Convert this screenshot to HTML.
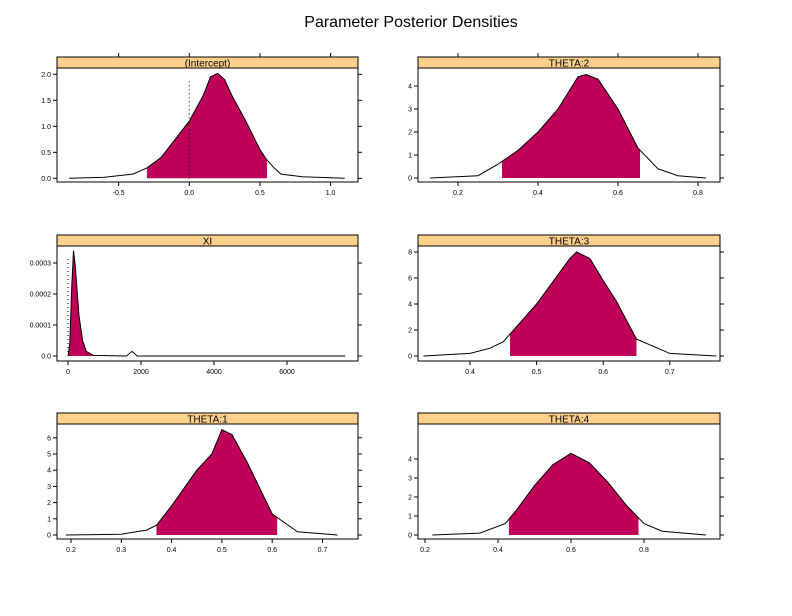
<!DOCTYPE html>
<html><head><meta charset="utf-8"><style>
body{margin:0;background:#fff}
svg text{font-family:"Liberation Sans",sans-serif;fill:#000}
</style></head><body>
<svg id="c" width="792" height="611" xmlns="http://www.w3.org/2000/svg">
<text x="411" y="27" font-size="16" text-anchor="middle">Parameter Posterior Densities</text>
</svg>
<script>
// ---- data ----
const panelTitles=["(Intercept)","THETA:2","XI","THETA:3","THETA:1","THETA:4"];
const interceptX=[-0.85,-0.6,-0.4,-0.3,-0.2,-0.1,0,0.1,0.15,0.2,0.25,0.3,0.4,0.5,0.55,0.6,0.65,0.8,1.1];
const interceptY=[0,0.02,0.08,0.2,0.4,0.75,1.1,1.6,1.95,2.02,1.9,1.6,1.1,0.55,0.35,0.2,0.08,0.03,0];
const theta2X=[0.13,0.25,0.3,0.35,0.4,0.45,0.5,0.52,0.55,0.6,0.65,0.7,0.75,0.82];
const theta2Y=[0,0.1,0.6,1.2,2.0,3.0,4.4,4.5,4.3,3.0,1.3,0.4,0.1,0];
const xiX=[0,50,100,150,200,300,400,500,700,1600,1750,1900,7600];
const xiY=[0,0.00004,0.00022,0.00034,0.00029,0.00013,0.00005,0.000015,0.000002,0,0.000015,0,0];
const theta3X=[0.33,0.4,0.43,0.45,0.5,0.55,0.56,0.58,0.6,0.62,0.65,0.7,0.77];
const theta3Y=[0,0.2,0.6,1.1,4,7.5,8,7.5,5.8,4.2,1.3,0.2,0];
const theta1X=[0.19,0.3,0.35,0.37,0.4,0.45,0.48,0.5,0.52,0.55,0.6,0.65,0.73];
const theta1Y=[0,0.05,0.3,0.6,1.8,4,5,6.5,6.2,4.5,1.3,0.2,0];
const theta4X=[0.22,0.35,0.42,0.45,0.5,0.55,0.6,0.65,0.7,0.75,0.8,0.85,0.97];
const theta4Y=[0,0.1,0.6,1.3,2.6,3.7,4.3,3.8,2.8,1.6,0.6,0.2,0];
const shadeLo=[-0.3,0.31,0,0.46,0.37,0.43];
const shadeHi=[0.55,0.655,700,0.65,0.61,0.785];
const xTicks=[[-0.5,0,0.5,1],[0.2,0.4,0.6,0.8],[0,2000,4000,6000],[0.4,0.5,0.6,0.7],[0.2,0.3,0.4,0.5,0.6,0.7],[0.2,0.4,0.6,0.8]];
const xTickLabels=[["-0.5","0.0","0.5","1.0"],["0.2","0.4","0.6","0.8"],["0","2000","4000","6000"],["0.4","0.5","0.6","0.7"],["0.2","0.3","0.4","0.5","0.6","0.7"],["0.2","0.4","0.6","0.8"]];
const yTicks=[[0,0.5,1,1.5,2],[0,1,2,3,4],[0,0.0001,0.0002,0.0003],[0,2,4,6,8],[0,1,2,3,4,5,6],[0,1,2,3,4]];
const yTickLabels=[["0.0","0.5","1.0","1.5","2.0"],["0","1","2","3","4"],["0.0","0.0001","0.0002","0.0003"],["0","2","4","6","8"],["0","1","2","3","4","5","6"],["0","1","2","3","4"]];
const dotLine=[0,null,0,null,null,null];
// ---- layout ----
const seriesX=[interceptX,theta2X,xiX,theta3X,theta1X,theta4X];
const seriesY=[interceptY,theta2Y,xiY,theta3Y,theta1Y,theta4Y];
const xMap=[[0,189.3,141.3],[0,378,400],[0,68,0.0365],[0.4,470,666],[0.2,71,503],[0.2,425,365]];
const yMap=[[178.3,52],[178,23],[356,310000],[356,13],[535,16.2],[535,19]];
const boxes=[[57,57,358,182],[418,57,720,182],[57,235,358,361],[418,235,720,361],[57,413,358,539],[418,413,720,539]];
const svg=document.getElementById('c');
const NS="http://www.w3.org/2000/svg";
function mk(t,a){const e=document.createElementNS(NS,t);for(const k in a)e.setAttribute(k,a[k]);svg.appendChild(e);return e;}
function interp(xs,ys,x){for(let i=0;i<xs.length-1;i++){if(x>=xs[i]&&x<=xs[i+1]){return ys[i]+(ys[i+1]-ys[i])*(x-xs[i])/(xs[i+1]-xs[i]);}}return 0;}
for(let p=0;p<6;p++){
  const [l,t,r,b]=boxes[p];
  const xm=xMap[p],ym=yMap[p];
  const sx=v=>xm[1]+(v-xm[0])*xm[2];
  const sy=v=>ym[0]-v*ym[1];
  const xs=seriesX[p],ys=seriesY[p];
  const st=mk('rect',{x:l,y:t,width:r-l,height:11,fill:'#ffd18c',stroke:'#000','stroke-width':1});
  
  
  const tt=mk('text',{x:(l+r)/2,y:t+9.5,'font-size':10,'text-anchor':'middle'});tt.textContent=panelTitles[p];
  
  
  const fr=mk('rect',{x:l,y:t+11,width:r-l,height:b-t-11,fill:'none',stroke:'#000','stroke-width':1});
  
  
  // shade
  const lo=shadeLo[p],hi=shadeHi[p];
  let pts=[[lo,0],[lo,interp(xs,ys,lo)]];
  for(let i=0;i<xs.length;i++)if(xs[i]>lo&&xs[i]<hi)pts.push([xs[i],ys[i]]);
  pts.push([hi,interp(xs,ys,hi)],[hi,0]);
  const sh=mk('polygon',{points:pts.map(q=>sx(q[0]).toFixed(1)+','+sy(q[1]).toFixed(1)).join(' '),fill:'#be0059'});
  
  
  const ln=mk('polyline',{points:xs.map((v,i)=>sx(v).toFixed(1)+','+sy(ys[i]).toFixed(1)).join(' '),fill:'none',stroke:'#000','stroke-width':1});
  
  
  if(dotLine[p]!==null){
    const ymax=Math.max(...ys);
    const dl=mk('line',{x1:sx(dotLine[p]),x2:sx(dotLine[p]),y1:sy(0),y2:sy(ymax*0.95),stroke:'#000','stroke-dasharray':'1,3'});
    
    
  }
  xTicks[p].forEach((v,i)=>{
    const x=sx(v);
    mk('line',{x1:x,x2:x,y1:b,y2:b+4,stroke:'#000'});
    if(p<2)mk('line',{x1:x,x2:x,y1:t,y2:t-4,stroke:'#000'});
    const tx=mk('text',{x:x,y:b+13,'font-size':7,'text-anchor':'middle'});tx.textContent=xTickLabels[p][i];
    
    
  });
  yTicks[p].forEach((v,i)=>{
    const y=sy(v);
    mk('line',{x1:l,x2:l-4,y1:y,y2:y,stroke:'#000'});
    mk('line',{x1:r,x2:r+4,y1:y,y2:y,stroke:'#000'});
    const ty=mk('text',{x:l-6,y:y+2.5,'font-size':7,'text-anchor':'end'});ty.textContent=yTickLabels[p][i];
    
    
  });
}
</script>
</body></html>
